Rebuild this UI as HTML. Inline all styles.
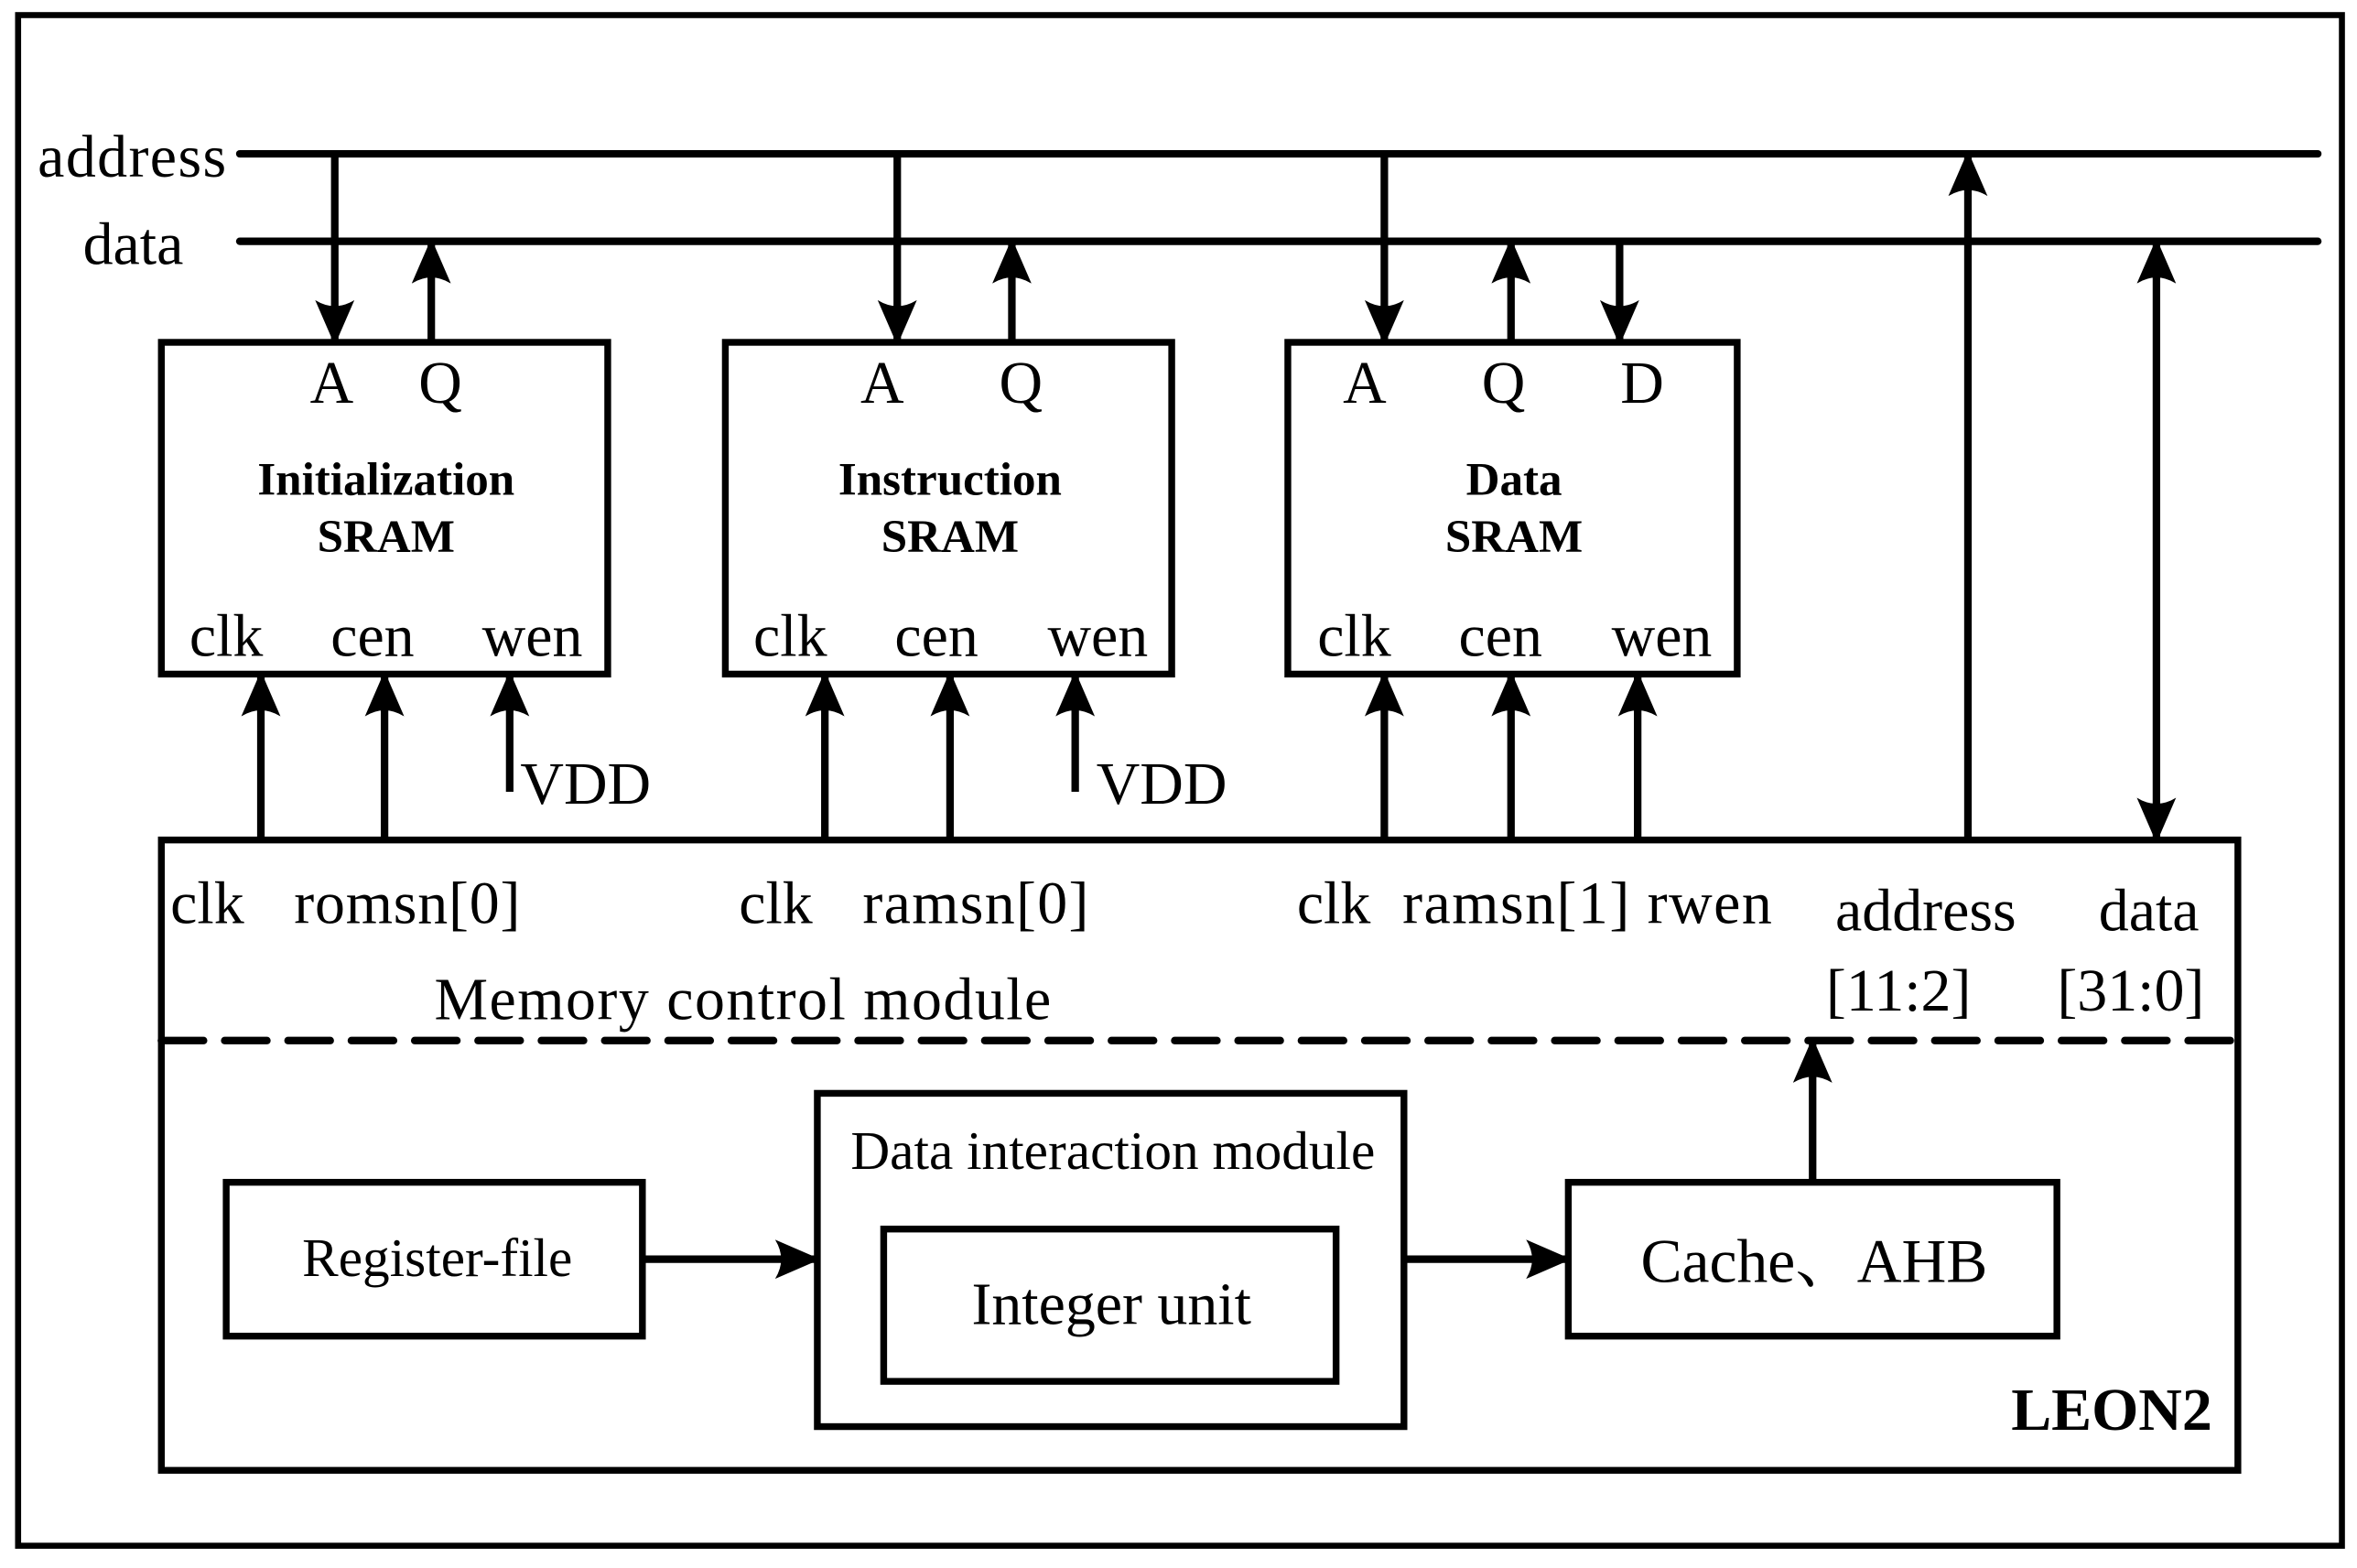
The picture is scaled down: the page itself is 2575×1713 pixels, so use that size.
<!DOCTYPE html>
<html><head><meta charset="utf-8"><style>html,body{margin:0;padding:0;background:#fff}svg{display:block}</style></head>
<body>
<svg width="2575" height="1713" viewBox="0 0 1563 1039.75" xmlns="http://www.w3.org/2000/svg" font-family="'Liberation Serif','Noto Serif CJK SC',serif">
<defs>
<marker id="ah" viewBox="0 0 30 30" refX="28" refY="15" markerWidth="30" markerHeight="30" markerUnits="userSpaceOnUse" orient="auto-start-reverse">
<path d="M0,2 L30,15 L0,28 Q8,15 0,2 Z" fill="#000"/>
</marker>
</defs>
<rect width="1563" height="1040" fill="#fff"/>
<rect x="12" y="10" width="1541" height="1015" fill="none" stroke="#000" stroke-width="4"/>
<g stroke="#000" stroke-width="5" fill="none" stroke-linecap="round">
<line x1="159" y1="102" x2="1537" y2="102"/>
<line x1="159" y1="160" x2="1537" y2="160"/>
</g>
<g font-size="40" fill="#000">
<text x="25" y="117" textLength="125">address</text>
<text x="55" y="175">data</text>
</g>
<g stroke="#000" stroke-width="4.5" fill="none">
<rect x="107" y="227" width="296" height="220"/>
<rect x="481" y="227" width="296" height="220"/>
<rect x="854" y="227" width="298" height="220"/>
<rect x="107" y="557" width="1377" height="418"/>
<rect x="150" y="784" width="276" height="102"/>
<rect x="542" y="725" width="389" height="221"/>
<rect x="586" y="815" width="300" height="101"/>
<rect x="1040" y="784" width="324" height="102"/>
</g>
<line x1="107" y1="690" x2="1484" y2="690" stroke="#000" stroke-width="5" stroke-dasharray="28,14" stroke-linecap="round"/>
<g stroke="#000" stroke-width="5" fill="none" marker-end="url(#ah)">
<line x1="222" y1="102" x2="222" y2="227"/>
<line x1="286" y1="227" x2="286" y2="160"/>
<line x1="595" y1="102" x2="595" y2="227"/>
<line x1="671" y1="227" x2="671" y2="160"/>
<line x1="918" y1="102" x2="918" y2="227"/>
<line x1="1002" y1="227" x2="1002" y2="160"/>
<line x1="1074" y1="160" x2="1074" y2="227"/>
<line x1="173" y1="557" x2="173" y2="447"/>
<line x1="255" y1="557" x2="255" y2="447"/>
<line x1="338" y1="525" x2="338" y2="447"/>
<line x1="547" y1="557" x2="547" y2="447"/>
<line x1="630" y1="557" x2="630" y2="447"/>
<line x1="713" y1="525" x2="713" y2="447"/>
<line x1="918" y1="557" x2="918" y2="447"/>
<line x1="1002" y1="557" x2="1002" y2="447"/>
<line x1="1086" y1="557" x2="1086" y2="447"/>
<line x1="1305" y1="557" x2="1305" y2="102"/>
<line x1="1430" y1="160" x2="1430" y2="557" marker-start="url(#ah)"/>
<line x1="426" y1="835" x2="542" y2="835"/>
<line x1="931" y1="835" x2="1040" y2="835"/>
<line x1="1202" y1="784" x2="1202" y2="690"/>
</g>
<g font-size="40" fill="#000" text-anchor="middle">
<text x="220" y="267">A</text><text x="292" y="267">Q</text>
<text x="585" y="267">A</text><text x="677" y="267">Q</text>
<text x="905" y="267">A</text><text x="997" y="267">Q</text><text x="1089" y="267">D</text>
<text x="150" y="435">clk</text><text x="247" y="435">cen</text><text x="353" y="435">wen</text>
<text x="524" y="435">clk</text><text x="621" y="435">cen</text><text x="728" y="435">wen</text>
<text x="898" y="435">clk</text><text x="995" y="435">cen</text><text x="1102" y="435">wen</text>
<text x="1277" y="617">address</text><text x="1259" y="670">[11:2]</text>
<text x="1425" y="617">data</text><text x="1413" y="670">[31:0]</text>
</g>
<g font-size="40" fill="#000">
<text x="345" y="533">VDD</text><text x="727" y="533">VDD</text>
<text x="113" y="612">clk</text><text x="195" y="612" textLength="150">romsn[0]</text>
<text x="490" y="612">clk</text><text x="572" y="612" textLength="150">ramsn[0]</text>
<text x="860" y="612">clk</text><text x="930" y="612" textLength="245">ramsn[1] rwen</text>
<text x="288" y="676" textLength="409">Memory control module</text>
</g>
<g font-size="31" font-weight="bold" fill="#000" text-anchor="middle">
<text x="256" y="328">Initialization</text><text x="256" y="366">SRAM</text>
<text x="630" y="328">Instruction</text><text x="630" y="366">SRAM</text>
<text x="1004" y="328">Data</text><text x="1004" y="366">SRAM</text>
</g>
<text x="1467" y="948" font-size="40" font-weight="bold" text-anchor="end">LEON2</text>
<g font-size="36" fill="#000" text-anchor="middle">
<text x="290" y="846">Register-file</text>
<text x="738" y="775">Data interaction module</text>
<text x="737" y="878" font-size="40">Integer unit</text>
<text x="1203" y="850" font-size="41">Cache、AHB</text>
</g>
</svg>
</body></html>
